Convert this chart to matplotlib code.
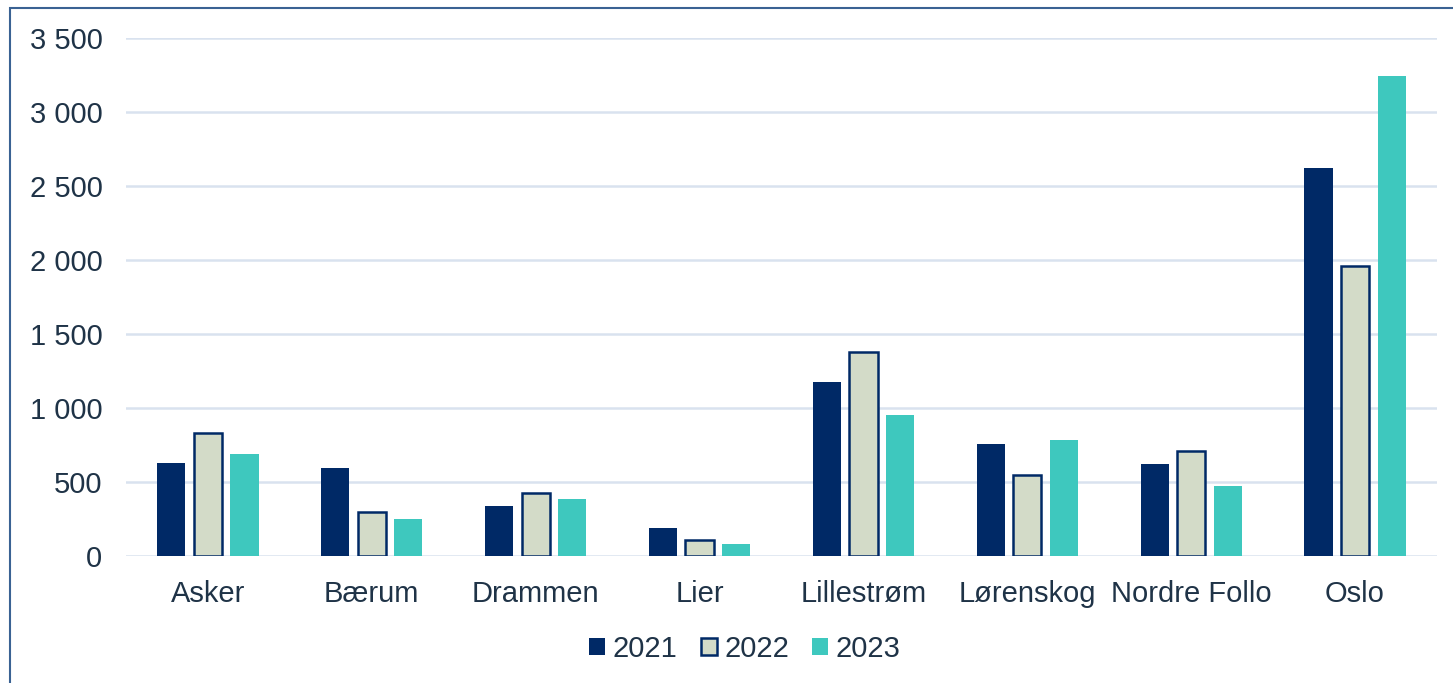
import matplotlib
matplotlib.use("Agg")
import matplotlib.pyplot as plt
import numpy as np
from matplotlib.patches import Rectangle
from matplotlib.ticker import FuncFormatter

categories = ["Asker", "Bærum", "Drammen", "Lier", "Lillestrøm", "Lørenskog", "Nordre Follo", "Oslo"]
series_names = ["2021", "2022", "2023"]
v2021 = [631, 595, 336, 192, 1172, 755, 620, 2618]
v2022 = [831, 297, 424, 106, 1376, 545, 707, 1960]
v2023 = [692, 253, 383, 79, 955, 780, 476, 3241]
yticks = [0, 500, 1000, 1500, 2000, 2500, 3000, 3500]

plt.rcParams['font.family'] = ['Liberation Sans', 'DejaVu Sans']
text_color = "#1F3347"
navy = "#002966"
beige = "#D3DBC8"
teal = "#3EC8BE"

fig = plt.figure(figsize=(14.53, 6.83), dpi=100)
ax = fig.add_axes([126/1453, 1-556/683, (1437-126)/1453, (556-37.7)/683])

x = np.arange(len(categories))
off = 0.223
w = 0.172
ax.bar(x - off, v2021, w, color=navy, label=series_names[0], zorder=3)
ax.bar(x, v2022, w, color=beige, edgecolor=navy, linewidth=1.8, label=series_names[1], zorder=3)
ax.bar(x + off, v2023, w, color=teal, label=series_names[2], zorder=3)

ax.set_xlim(-0.5, len(categories) - 0.5)
ax.set_ylim(0, 3500)
ax.set_yticks(yticks)
ax.yaxis.set_major_formatter(FuncFormatter(lambda v, p: f"{int(v):,}".replace(",", " ")))
ax.set_xticks(x)
ax.set_xticklabels(categories)
ax.grid(axis='y', color="#D9E2EF", linewidth=1.8, zorder=0)
for s in ax.spines.values():
    s.set_visible(False)
ax.tick_params(axis='both', length=0, labelsize=21, labelcolor=text_color)
ax.tick_params(axis='y', pad=17)
ax.tick_params(axis='x', pad=17)

leg = fig.legend(loc='center', bbox_to_anchor=(745/1453, 1-649/683), ncol=3, frameon=False,
                 fontsize=21, handlelength=0.55, handleheight=0.55, handletextpad=0.25,
                 columnspacing=0.8, labelcolor=text_color)

fig.patches.append(Rectangle((10/1453, -0.05), 1.2, 1-8/683+0.05, transform=fig.transFigure,
                             fill=False, edgecolor="#3A6293", linewidth=1.5))

fig.savefig("out.png", dpi=100)
